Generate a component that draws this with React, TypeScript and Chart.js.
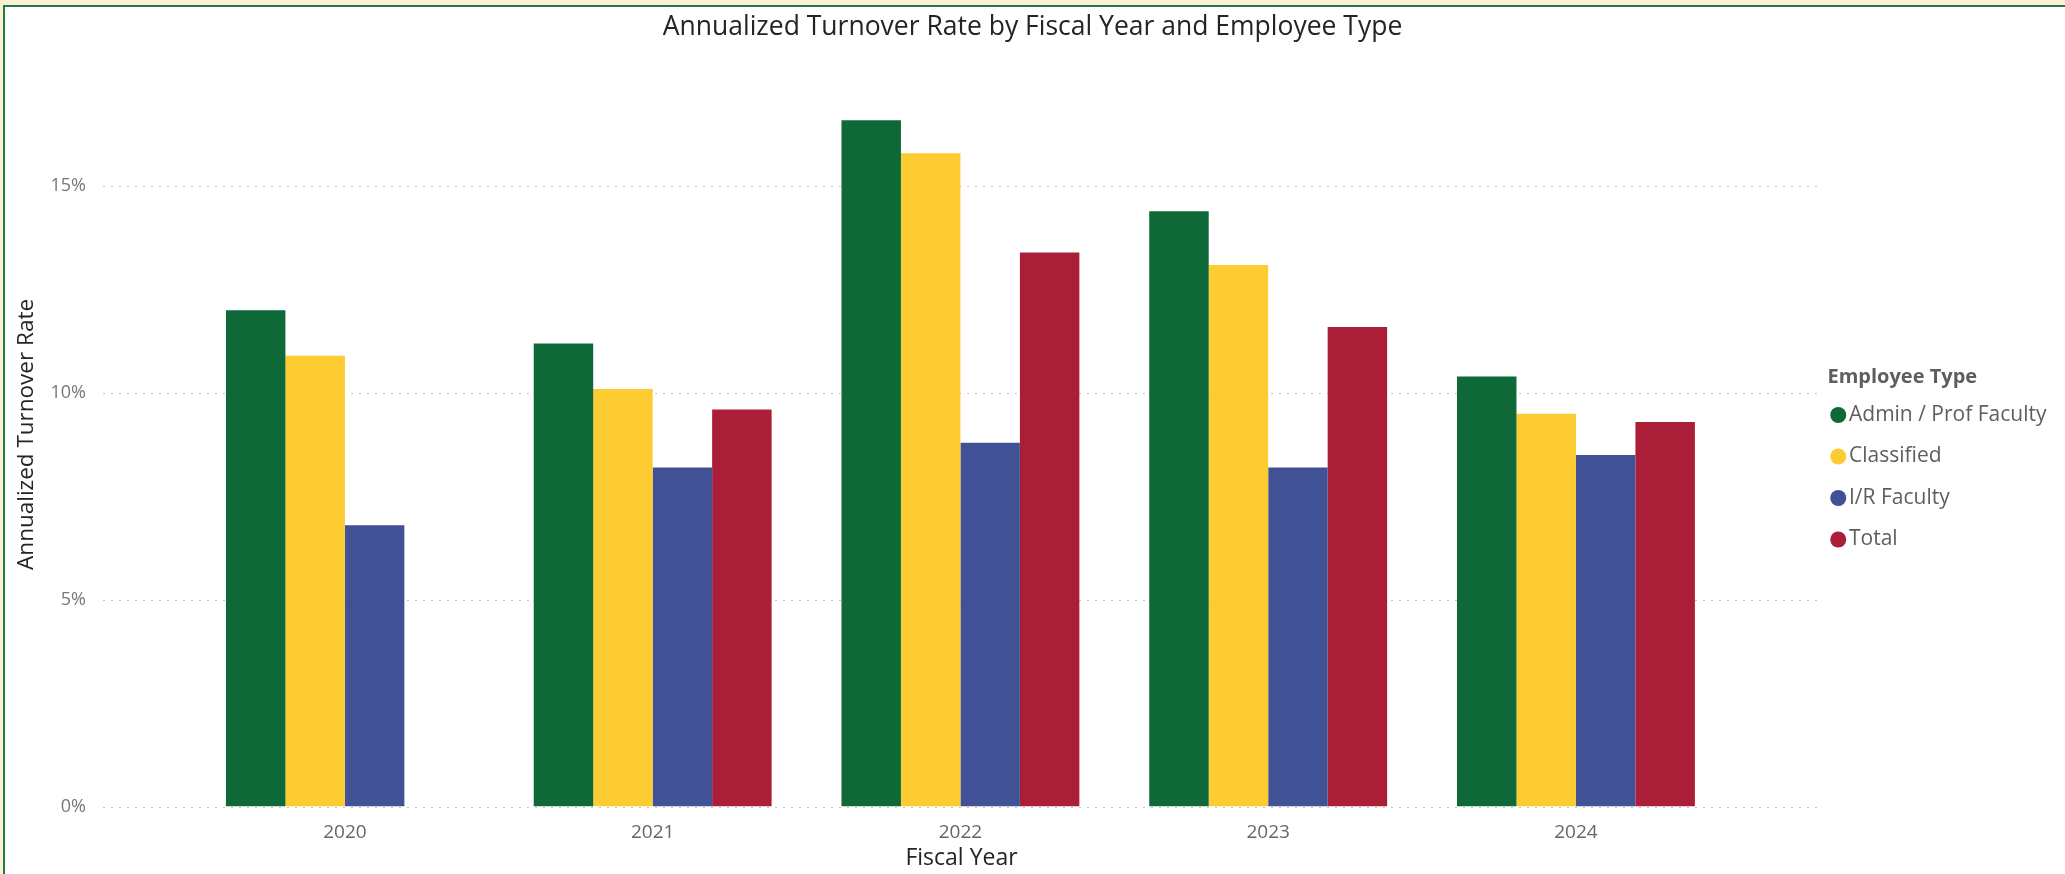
import React, { useEffect, useRef } from "react";
import { Chart, registerables } from "chart.js";

Chart.register(...registerables);

// ---- data ----
const fiscalYears = ["2020", "2021", "2022", "2023", "2024"];
const adminProf = [12.0, 11.2, 16.6, 14.4, 10.4];
const classified = [10.9, 10.1, 15.8, 13.1, 9.5];
const irFaculty = [6.8, 8.2, 8.8, 8.2, 8.5];
const totalRate = [null, 9.6, 13.4, 11.6, 9.3];
const yTickValues = [0, 5, 10, 15];
const seriesNames = ["Admin / Prof Faculty", "Classified", "I/R Faculty", "Total"];
const seriesColors = ["#0E6838", "#FDCB32", "#415196", "#AB1E37"];

const chartTitle = "Annualized Turnover Rate by Fiscal Year and Employee Type";
const xTitle = "Fiscal Year";
const yTitle = "Annualized Turnover Rate";
const legendTitle = "Employee Type";

const FONT = "'Open Sans', 'Noto Sans', sans-serif";

const spacerAxis = (weight: number, width: number) => ({
  type: "linear",
  position: "right",
  weight,
  display: true,
  grid: { display: false },
  border: { display: false },
  ticks: { display: false },
  afterFit: (s: any) => {
    s.width = width;
  },
});

export default function App() {
  const ref = useRef<HTMLCanvasElement | null>(null);

  useEffect(() => {
    const canvas = ref.current;
    if (!canvas) return;
    const series = [adminProf, classified, irFaculty, totalRate];
    const defaultLabels = (Chart.defaults as any).plugins.legend.labels.generateLabels;
    const chart = new Chart(canvas, {
      type: "bar",
      data: {
        datasets: series.map((vals, si) => ({
          label: seriesNames[si],
          data: vals.map((v, i) => ({ x: i, y: v })),
          backgroundColor: seriesColors[si],
          borderWidth: 0,
          categoryPercentage: 0.773,
          barPercentage: 1,
        })),
      },
      options: {
        animation: false,
        responsive: false,
        devicePixelRatio: 1,
        layout: { padding: 0 },
        scales: {
          x: {
            type: "linear",
            min: -0.786,
            max: 4.793,
            offset: false,
            grid: { display: false },
            border: { display: false },
            afterBuildTicks: (axis: any) => {
              axis.ticks = fiscalYears.map((_, i) => ({ value: i }));
            },
            afterFit: (s: any) => {
              s.height = 67.5;
            },
            ticks: {
              autoSkip: false,
              maxRotation: 0,
              padding: 7,
              color: "#666666",
              font: { family: FONT, size: 19 },
              callback: (v: any) => fiscalYears[Math.round(Number(v))] ?? "",
            },
            title: {
              display: true,
              text: xTitle,
              color: "#252423",
              font: { family: FONT, size: 23 },
              padding: { top: 0, bottom: 2 },
            },
          },
          y: {
            type: "linear",
            min: 0,
            max: 18,
            afterBuildTicks: (axis: any) => {
              axis.ticks = yTickValues.map((v) => ({ value: v }));
            },
            afterFit: (s: any) => {
              s.width = 103;
            },
            border: { display: false },
            grid: { display: false, drawTicks: false },
            ticks: {
              padding: 17,
              color: "#777777",
              font: { family: FONT, size: 18 },
              callback: (v: any) => v + "%",
            },
            title: {
              display: true,
              text: yTitle,
              color: "#252423",
              font: { family: FONT, size: 22.5 },
              padding: { top: 13, bottom: 0 },
            },
          },
          gapRight: spacerAxis(0, 7.5),
          edgeRight: spacerAxis(2000, 9.5),
        },
        plugins: {
          title: {
            display: true,
            text: chartTitle,
            color: "#252423",
            font: { family: FONT, size: 26.5, weight: "normal" },
            padding: { top: 12, bottom: 18.5 },
          },
          legend: {
            position: "right",
            align: "start",
            maxWidth: 228,
            title: {
              display: true,
              text: legendTitle,
              position: "start",
              color: "#605E5C",
              font: { family: FONT, size: 20, weight: "bold", lineHeight: "27px" },
              padding: { top: 367, bottom: 0 },
            },
            labels: {
              usePointStyle: true,
              pointStyle: "circle",
              boxWidth: 0.5,
              boxHeight: 11.31,
              padding: 10.5,
              color: "#605E5C",
              font: { family: FONT, size: 21, lineHeight: "31px" },
              generateLabels: (c: any) =>
                defaultLabels(c).map((item: any) => ({ ...item, text: [item.text] })),
            },
          },
          tooltip: { enabled: false },
        },
      },
      plugins: [
        {
          id: "dottedGrid",
          beforeDatasetsDraw(c: any) {
            const { ctx, chartArea } = c;
            const y = c.scales.y;
            ctx.save();
            ctx.strokeStyle = "#C8C6C4";
            ctx.lineWidth = 1;
            ctx.setLineDash([2, 6]);
            for (const v of yTickValues) {
              const py = Math.round(y.getPixelForValue(v)) + 0.5;
              ctx.beginPath();
              ctx.moveTo(chartArea.left, py);
              ctx.lineTo(chartArea.right, py);
              ctx.stroke();
            }
            ctx.restore();
          },
        },
      ],
    } as any);
    return () => chart.destroy();
  }, []);

  return (
    <div style={{ position: "fixed", inset: 0, background: "#FDF0D2", overflow: "hidden" }}>
      <div
        style={{
          position: "absolute",
          left: 3,
          top: 5,
          right: 0,
          bottom: 0,
          background: "#ffffff",
          borderTop: "2px solid #1F7A45",
          borderLeft: "2px solid #1F7A45",
        }}
      />
      <canvas
        ref={ref}
        width={2065}
        height={874}
        style={{ position: "absolute", left: 0, top: 0, width: 2065, height: 874, display: "block" }}
      />
    </div>
  );
}
